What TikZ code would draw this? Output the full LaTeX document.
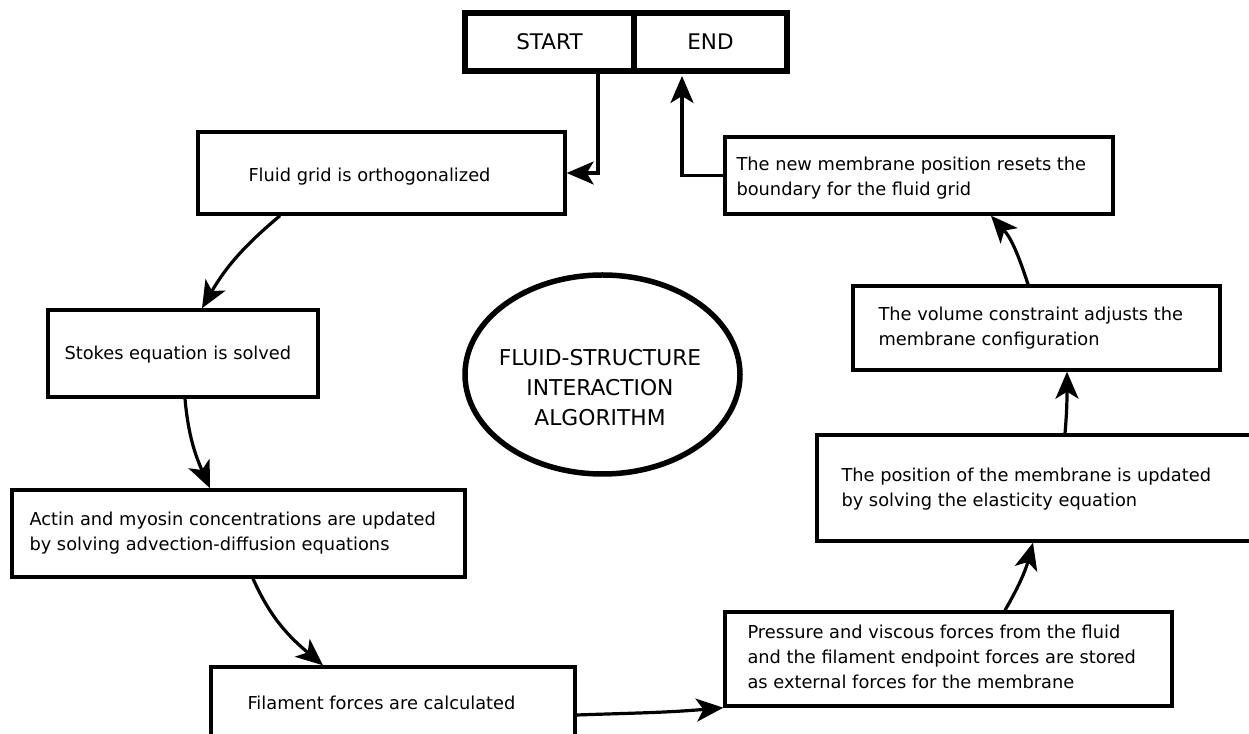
\documentclass[tikz,border=0pt]{standalone}
\usepackage{fontspec}
\setmainfont{DejaVu Sans}
\usetikzlibrary{arrows.meta,shapes.geometric,calc}
\begin{document}
\begin{tikzpicture}[x=1pt,y=1pt,
  box/.style={draw,line width=3.4pt,rectangle,inner sep=0pt},
  sebox/.style={draw,line width=6pt,rectangle,inner sep=0pt,minimum height=58pt,font=\fontsize{21.5}{25}\selectfont},
  txt/.style={anchor=west,align=left,inner sep=0pt,font=\fontsize{17.8}{25}\selectfont},
  arr/.style={line width=3.2pt,-{Stealth[length=27pt,width=23pt,inset=7pt]}},
]
\useasboundingbox (0,0) rectangle (1249,733);
\clip (0,0) rectangle (1249,733);

% START / END
\node[sebox,minimum width=169pt] (start) at (549.5,691) {START};
\node[sebox,minimum width=153pt] (end) at (710.5,691) {END};

% boxes
\node[box,minimum width=367pt,minimum height=82pt] (fluid) at (381.5,560) {};
\node[txt] (fluidT) at ([xshift=52pt,yshift=-4pt]fluid.west) {Fluid grid is orthogonalized};

\node[box,minimum width=270pt,minimum height=87pt] (stokes) at (183,379.5) {};
\node[txt] (stokesT) at ([xshift=18pt,yshift=-1pt]stokes.west) {Stokes equation is solved};

\node[box,minimum width=453pt,minimum height=87pt] (actin) at (238.5,199.5) {};
\node[txt] (actinT) at ([xshift=19pt,yshift=0pt]actin.west) {Actin and myosin concentrations are updated\\by solving advection-diffusion equations};

\node[box,minimum width=364pt,minimum height=72pt] (filament) at (393,30) {};
\node[txt] (filamentT) at ([xshift=38pt]filament.west) {Filament forces are calculated};

\node[box,minimum width=447pt,minimum height=94pt] (pressure) at (948.5,74) {};
\node[txt] (pressureT) at ([xshift=24pt,yshift=2pt]pressure.west) {Pressure and viscous forces from the fluid\\and the filament endpoint forces are stored\\as external forces for the membrane};

\node[box,minimum width=445pt,minimum height=106pt] (position) at (1039.5,245) {};
\node[txt] (positionT) at ([xshift=26pt,yshift=-1.5pt]position.west) {The position of the membrane is updated\\by solving the elasticity equation};

\node[box,minimum width=367pt,minimum height=84pt] (volume) at (1036.5,405) {};
\node[txt] (volumeT) at ([xshift=27pt,yshift=0pt]volume.west) {The volume constraint adjusts the\\membrane configuration};

\node[box,minimum width=388pt,minimum height=77pt] (newpos) at (919,557.5) {};
\node[txt] (newposT) at ([xshift=13pt,yshift=-2.5pt]newpos.west) {The new membrane position resets the\\boundary for the fluid grid};

% ellipse
\node[draw,ellipse,line width=5.5pt,minimum width=275pt,minimum height=199pt,inner sep=0pt] (ell) at (602.5,358.5) {};
\node[align=center,inner sep=0pt,font=\fontsize{21.8}{30}\selectfont] (ellT) at (600,345) {FLUID-STRUCTURE\\INTERACTION\\ALGORITHM};

% connectors
\draw[arr] ([xshift=48.5pt]start.south) |- (fluid.east);
\draw[arr] (newpos.west) -| ([xshift=-28.5pt,yshift=-2pt]end.south);
\draw[arr] ([xshift=-101.5pt]fluid.south) to[out=-140,in=60] ([xshift=19pt]stokes.north);
\draw[arr] ([xshift=2pt]stokes.south) to[out=-85,in=114] ([xshift=-28.5pt]actin.north);
\draw[arr] ([xshift=14.5pt]actin.south) to[out=-66,in=140] ([xshift=-70pt]filament.north);
\draw[arr] ([yshift=-12pt]filament.east) to[out=2,in=185] (pressure.south west);
\draw[arr] ([xshift=56.5pt]pressure.north) to[out=60,in=-105] ([xshift=-6.5pt]position.south);
\draw[arr] ([xshift=25.5pt]position.north) to[out=85,in=-90] ([xshift=30.5pt]volume.south);
\draw[arr] ([xshift=-8.5pt]volume.north) to[out=108,in=-48] ([xshift=72pt]newpos.south);
\end{tikzpicture}
\end{document}
